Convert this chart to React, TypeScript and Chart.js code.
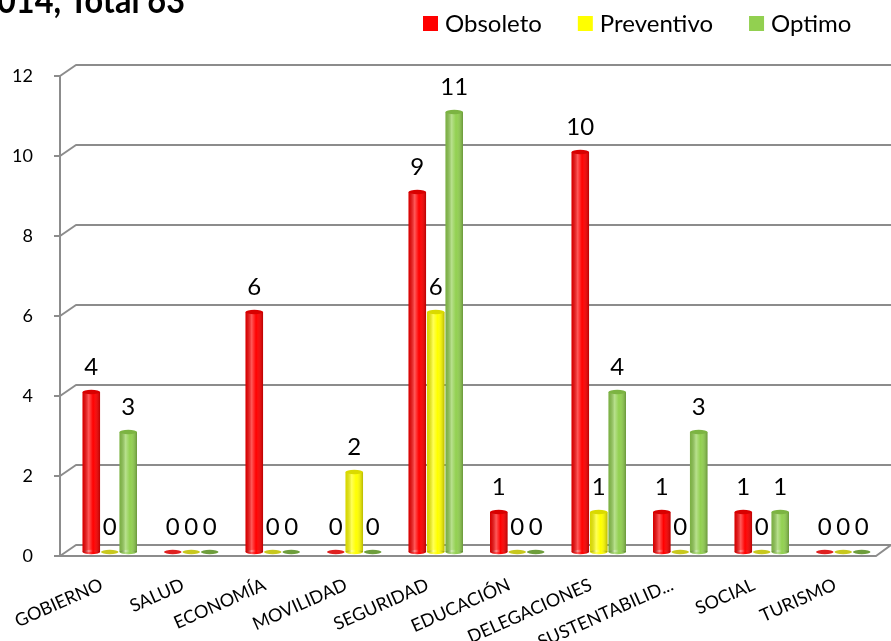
import React, { useEffect, useRef } from 'react';
import { Chart, registerables } from 'chart.js';

Chart.register(...registerables);

const categories = ['GOBIERNO', 'SALUD', 'ECONOMÍA', 'MOVILIDAD', 'SEGURIDAD', 'EDUCACIÓN', 'DELEGACIONES', 'SUSTENTABILID...', 'SOCIAL', 'TURISMO'];
const obsoleto = [4, 0, 6, 0, 9, 1, 10, 1, 1, 0];
const preventivo = [0, 0, 0, 2, 6, 0, 1, 0, 0, 0];
const optimo = [3, 0, 0, 0, 11, 0, 4, 3, 1, 0];
const seriesNames = ['Obsoleto', 'Preventivo', 'Optimo'];
const seriesColors = ['#FF0000', '#FFFF00', '#92D050'];
const capColors = ['#D80000', '#DADA00', '#7CB442'];
const zeroColors = ['#E02020', '#C8C81E', '#6E9E3C'];
const yTicks = [0, 2, 4, 6, 8, 10, 12];
const titleText = '2014, Total 63';
const titleVisible = '014, Total 63';

const FONT = 'Lato, "Noto Sans", sans-serif';

const frame3d = {
  id: 'frame3d',
  beforeDatasetsDraw(chart: any) {
    const { ctx, chartArea, scales } = chart;
    const y = scales.y;
    const L = chartArea.left;
    const R = chartArea.right;
    const frontX = L - 9;
    const backX = L + 7;
    const fOff = 4;
    const bOff = -7;
    ctx.save();
    ctx.strokeStyle = '#8C8C8C';
    ctx.lineWidth = 2;
    ctx.lineJoin = 'round';
    for (const v of yTicks) {
      const p = y.getPixelForValue(v);
      ctx.beginPath();
      ctx.moveTo(frontX - 6, p + fOff);
      ctx.lineTo(frontX, p + fOff);
      ctx.lineTo(backX, p + bOff);
      ctx.lineTo(chart.width + 10, p + bOff);
      ctx.stroke();
    }
    const p0 = y.getPixelForValue(0);
    const pTop = y.getPixelForValue(yTicks[yTicks.length - 1]);
    ctx.beginPath();
    ctx.moveTo(frontX, pTop + fOff);
    ctx.lineTo(frontX, p0 + fOff);
    ctx.lineTo(R - 8, p0 + fOff);
    ctx.lineTo(R + 7, p0 + bOff);
    ctx.stroke();
    ctx.restore();
  },
};

function ellipse(ctx: CanvasRenderingContext2D, cx: number, cy: number, rx: number, ry: number) {
  ctx.beginPath();
  ctx.ellipse(cx, cy, rx, ry, 0, 0, Math.PI * 2);
}

const cylinders = {
  id: 'cylinders',
  afterDatasetsDraw(chart: any) {
    const ctx: CanvasRenderingContext2D = chart.ctx;
    chart.data.datasets.forEach((ds: any, di: number) => {
      const meta = chart.getDatasetMeta(di);
      meta.data.forEach((bar: any, i: number) => {
        const { x, y, base, width } = bar.getProps(['x', 'y', 'base', 'width'], true);
        const l = x - width / 2;
        const rx = width / 2;
        const ry = Math.max(2, width * 0.13);
        const val = ds.data[i];
        ctx.save();
        if (val > 0) {
          ctx.fillStyle = seriesColors[di];
          ellipse(ctx, x, base, rx, ry);
          ctx.fill();
          const g = ctx.createLinearGradient(l, 0, l + width, 0);
          g.addColorStop(0, 'rgba(0,0,0,0.15)');
          g.addColorStop(0.35, 'rgba(255,255,255,0.35)');
          g.addColorStop(0.6, 'rgba(255,255,255,0)');
          g.addColorStop(1, 'rgba(0,0,0,0.28)');
          ctx.fillStyle = g;
          ctx.fillRect(l, y, width, base - y);
          ellipse(ctx, x, base, rx, ry);
          ctx.fill();
          ctx.fillStyle = capColors[di];
          ellipse(ctx, x, y, rx, ry);
          ctx.fill();
        } else {
          ctx.fillStyle = zeroColors[di];
          ellipse(ctx, x, base, rx, ry);
          ctx.fill();
        }
        ctx.restore();
      });
    });
  },
};

const valueLabels = {
  id: 'valueLabels',
  afterDatasetsDraw(chart: any) {
    const ctx: CanvasRenderingContext2D = chart.ctx;
    ctx.save();
    ctx.font = `24px ${FONT}`;
    ctx.fillStyle = '#000';
    ctx.textAlign = 'center';
    ctx.textBaseline = 'middle';
    chart.data.datasets.forEach((ds: any, di: number) => {
      const meta = chart.getDatasetMeta(di);
      meta.data.forEach((bar: any, i: number) => {
        const { x, y } = bar.getProps(['x', 'y'], true);
        ctx.fillText(String(ds.data[i]), x, y - 25);
      });
    });
    ctx.restore();
  },
};

const legendTitle = {
  id: 'legendTitle',
  afterDraw(chart: any) {
    const ctx: CanvasRenderingContext2D = chart.ctx;
    ctx.save();
    // title (cut off at the left/top edges as in the source)
    ctx.save();
    ctx.font = `bold 37px ${FONT}`;
    ctx.fillStyle = '#000';
    ctx.textAlign = 'right';
    ctx.textBaseline = 'alphabetic';
    const w = ctx.measureText(titleVisible).width;
    const sx = 188 / w;
    ctx.translate(185, 13);
    ctx.scale(sx, 1);
    ctx.fillText(titleText, 0, 0);
    ctx.restore();
    // legend
    ctx.font = `24px ${FONT}`;
    ctx.textAlign = 'left';
    ctx.textBaseline = 'middle';
    let xPos = 423;
    const box = 15;
    const cy = 23.5;
    chart.data.datasets.forEach((ds: any, di: number) => {
      ctx.fillStyle = seriesColors[di];
      ctx.fillRect(xPos, cy - box / 2, box, box);
      ctx.fillStyle = '#000';
      ctx.fillText(ds.label, xPos + box + 7, cy + 1);
      xPos += box + 7 + ctx.measureText(ds.label).width + 36;
    });
    ctx.restore();
  },
};

export default function App() {
  const ref = useRef<HTMLCanvasElement | null>(null);
  useEffect(() => {
    if (!ref.current) return;
    Chart.defaults.font.family = FONT;
    const chart = new Chart(ref.current, {
      type: 'bar',
      data: {
        labels: categories,
        datasets: [obsoleto, preventivo, optimo].map((d, i) => ({
          label: seriesNames[i],
          data: d,
          backgroundColor: seriesColors[i],
          borderWidth: 0,
          categoryPercentage: 0.68,
          barPercentage: 0.95,
        })),
      },
      options: {
        animation: false,
        responsive: true,
        maintainAspectRatio: false,
        layout: { padding: { top: 72, right: 7, left: 0, bottom: 0 } },
        plugins: {
          legend: { display: false },
          title: { display: false },
          tooltip: { enabled: false },
        },
        scales: {
          x: {
            grid: { display: false },
            border: { display: false },
            ticks: {
              color: '#000',
              font: { size: 18, family: FONT },
              minRotation: 24,
              maxRotation: 24,
              padding: 14,
              labelOffset: -8,
              autoSkip: false,
            },
            afterFit(scale: any) {
              scale.height = 89;
            },
          },
          y: {
            min: 0,
            max: 12,
            grid: { display: false },
            border: { display: false },
            ticks: {
              stepSize: 2,
              color: '#000',
              font: { size: 18, family: FONT },
              padding: 28,
              labelOffset: 4,
            },
            afterFit(scale: any) {
              scale.width = 69;
            },
          },
        },
      },
      plugins: [frame3d, cylinders, valueLabels, legendTitle],
    });
    return () => chart.destroy();
  }, []);
  return (
    <div style={{ position: 'fixed', left: 0, top: 0, width: 891, height: 641, background: '#fff' }}>
      <canvas ref={ref} />
    </div>
  );
}
